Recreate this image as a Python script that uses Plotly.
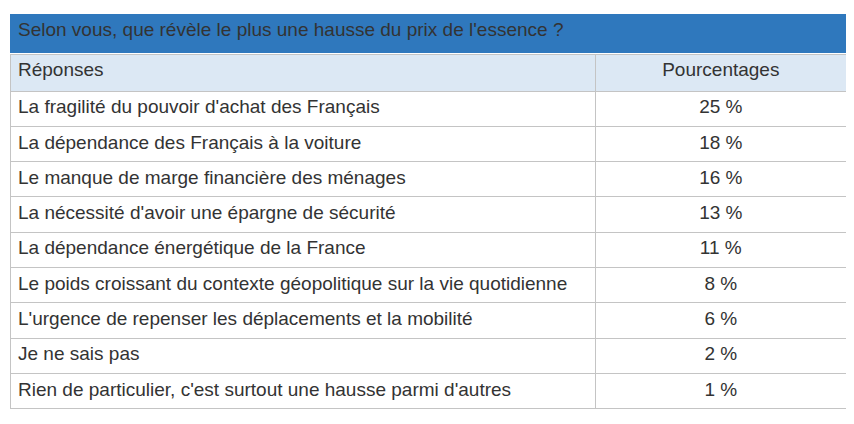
import plotly.graph_objects as go

title = "Selon vous, que révèle le plus une hausse du prix de l'essence ?"
col_headers = ["Réponses", "Pourcentages"]
reponses = [
    "La fragilité du pouvoir d'achat des Français",
    "La dépendance des Français à la voiture",
    "Le manque de marge financière des ménages",
    "La nécessité d'avoir une épargne de sécurité",
    "La dépendance énergétique de la France",
    "Le poids croissant du contexte géopolitique sur la vie quotidienne",
    "L'urgence de repenser les déplacements et la mobilité",
    "Je ne sais pas",
    "Rien de particulier, c'est surtout une hausse parmi d'autres",
]
pourcentages = [25, 18, 16, 13, 11, 8, 6, 2, 1]

W, H = 854, 424
x0, x1 = 2 / W, 838 / W
font = dict(family="Liberation Sans, Arial", size=19, color="#333333")
line = dict(color="#c4c4c4", width=1)

fig = go.Figure()
fig.add_trace(go.Table(
    domain=dict(x=[x0, x1], y=[1 - 46 / H, 1 - 6 / H]),
    columnwidth=[1],
    header=dict(values=[title], fill_color="#2f78bd", line=dict(color="#2f78bd", width=1),
                font=font, align="left", height=40),
    cells=dict(values=[[]]),
))
fig.add_trace(go.Table(
    domain=dict(x=[x0, x1], y=[0, 1 - 46 / H]),
    columnwidth=[580, 248],
    header=dict(values=col_headers, fill_color="#dce8f4", line=line,
                font=font, align=["left", "center"], height=37),
    cells=dict(values=[reponses, [f"{p} %" for p in pourcentages]],
               fill_color="white", line=line, font=font,
               align=["left", "center"], height=35.3),
))
fig.update_layout(width=W, height=H, margin=dict(l=0, r=0, t=0, b=0),
                  paper_bgcolor="white")
fig.write_html("out.html")
